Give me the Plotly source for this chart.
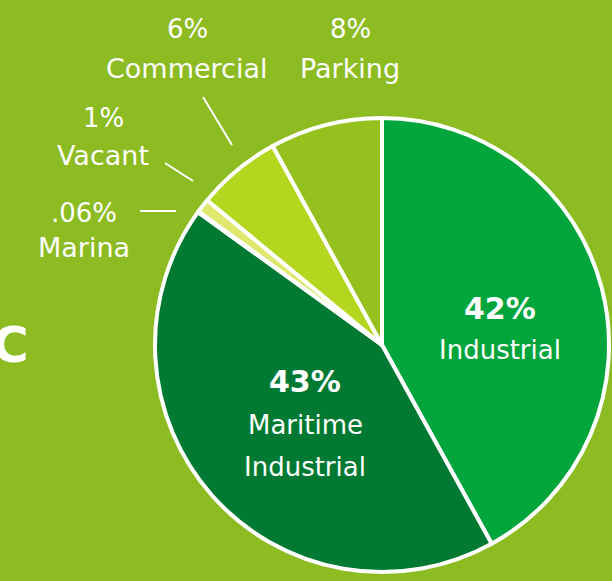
import plotly.graph_objects as go

# ---- data ----
labels = ["Industrial", "Maritime Industrial", "Marina", "Vacant", "Commercial", "Parking"]
values = [42, 43, 0.06, 1, 6, 8]
pct_text = ["42%", "43%", ".06%", "1%", "6%", "8%"]
name_lines = [["Industrial"], ["Maritime", "Industrial"], ["Marina"], ["Vacant"], ["Commercial"], ["Parking"]]
colors = ["#00a53b", "#007a33", "#e3ea7a", "#dfe76d", "#b4d61f", "#95c11f"]

W, H = 612, 581
BG = "#8cbb22"
FONT = "DejaVu Sans"

# pixel positions of label blocks (centre x, pct y, first name y, line step)
label_pos = [
    (500, 308, 350, 0),
    (305, 381, 425, 42),
    (84, 213, 248, 0),
    (103, 118, 155, 0),
    (187, 29, 68, 0),
    (350, 29, 68, 0),
]
inside = [True, True, False, False, False, False]

# leader lines in pixels (for Marina, Vacant, Commercial)
leaders = {
    2: (140, 211, 176, 211),
    3: (165, 163, 193, 181),
    4: (203, 97, 232, 145),
}

cx, cy, r = 382, 345, 227

fig = go.Figure(go.Pie(
    labels=labels,
    values=values,
    sort=False,
    direction="clockwise",
    rotation=0,
    marker=dict(colors=colors, line=dict(color="white", width=4)),
    textinfo="none",
    hoverinfo="label+percent",
    showlegend=False,
    domain=dict(x=[(cx - r) / W, (cx + r) / W], y=[(H - cy - r) / H, (H - cy + r) / H]),
))

def px(x):
    return x / W

def py(y):
    return 1 - y / H

ann = []
for i, (x, yp, yn, step) in enumerate(label_pos):
    big = inside[i]
    ann.append(dict(x=px(x), y=py(yp), xref="paper", yref="paper", text=pct_text[i],
                    showarrow=False, xanchor="center", yanchor="middle",
                    font=dict(family=FONT, size=30 if big else 26, color="white",
                              weight="bold" if big else "normal")))
    for j, line in enumerate(name_lines[i]):
        ann.append(dict(x=px(x), y=py(yn + j * step), xref="paper", yref="paper", text=line,
                        showarrow=False, xanchor="center", yanchor="middle",
                        font=dict(family=FONT, size=27 if not big else 26, color="white")))

# partial title letter at left edge
ann.append(dict(x=px(31), y=py(345), xref="paper", yref="paper", text="C", showarrow=False,
                xanchor="right", yanchor="middle",
                font=dict(family=FONT, size=50, color="white", weight="bold")))

shapes = []
for i, (x0, y0, x1, y1) in leaders.items():
    shapes.append(dict(type="line", xref="paper", yref="paper", x0=px(x0), y0=py(y0),
                       x1=px(x1), y1=py(y1), line=dict(color="white", width=2)))

fig.update_layout(
    width=W, height=H,
    margin=dict(l=0, r=0, t=0, b=0),
    paper_bgcolor=BG, plot_bgcolor=BG,
    annotations=ann, shapes=shapes,
)

fig.write_html("out.html", config={"displayModeBar": False},
               post_script="document.body.style.margin='0';document.body.style.overflow='hidden';")
